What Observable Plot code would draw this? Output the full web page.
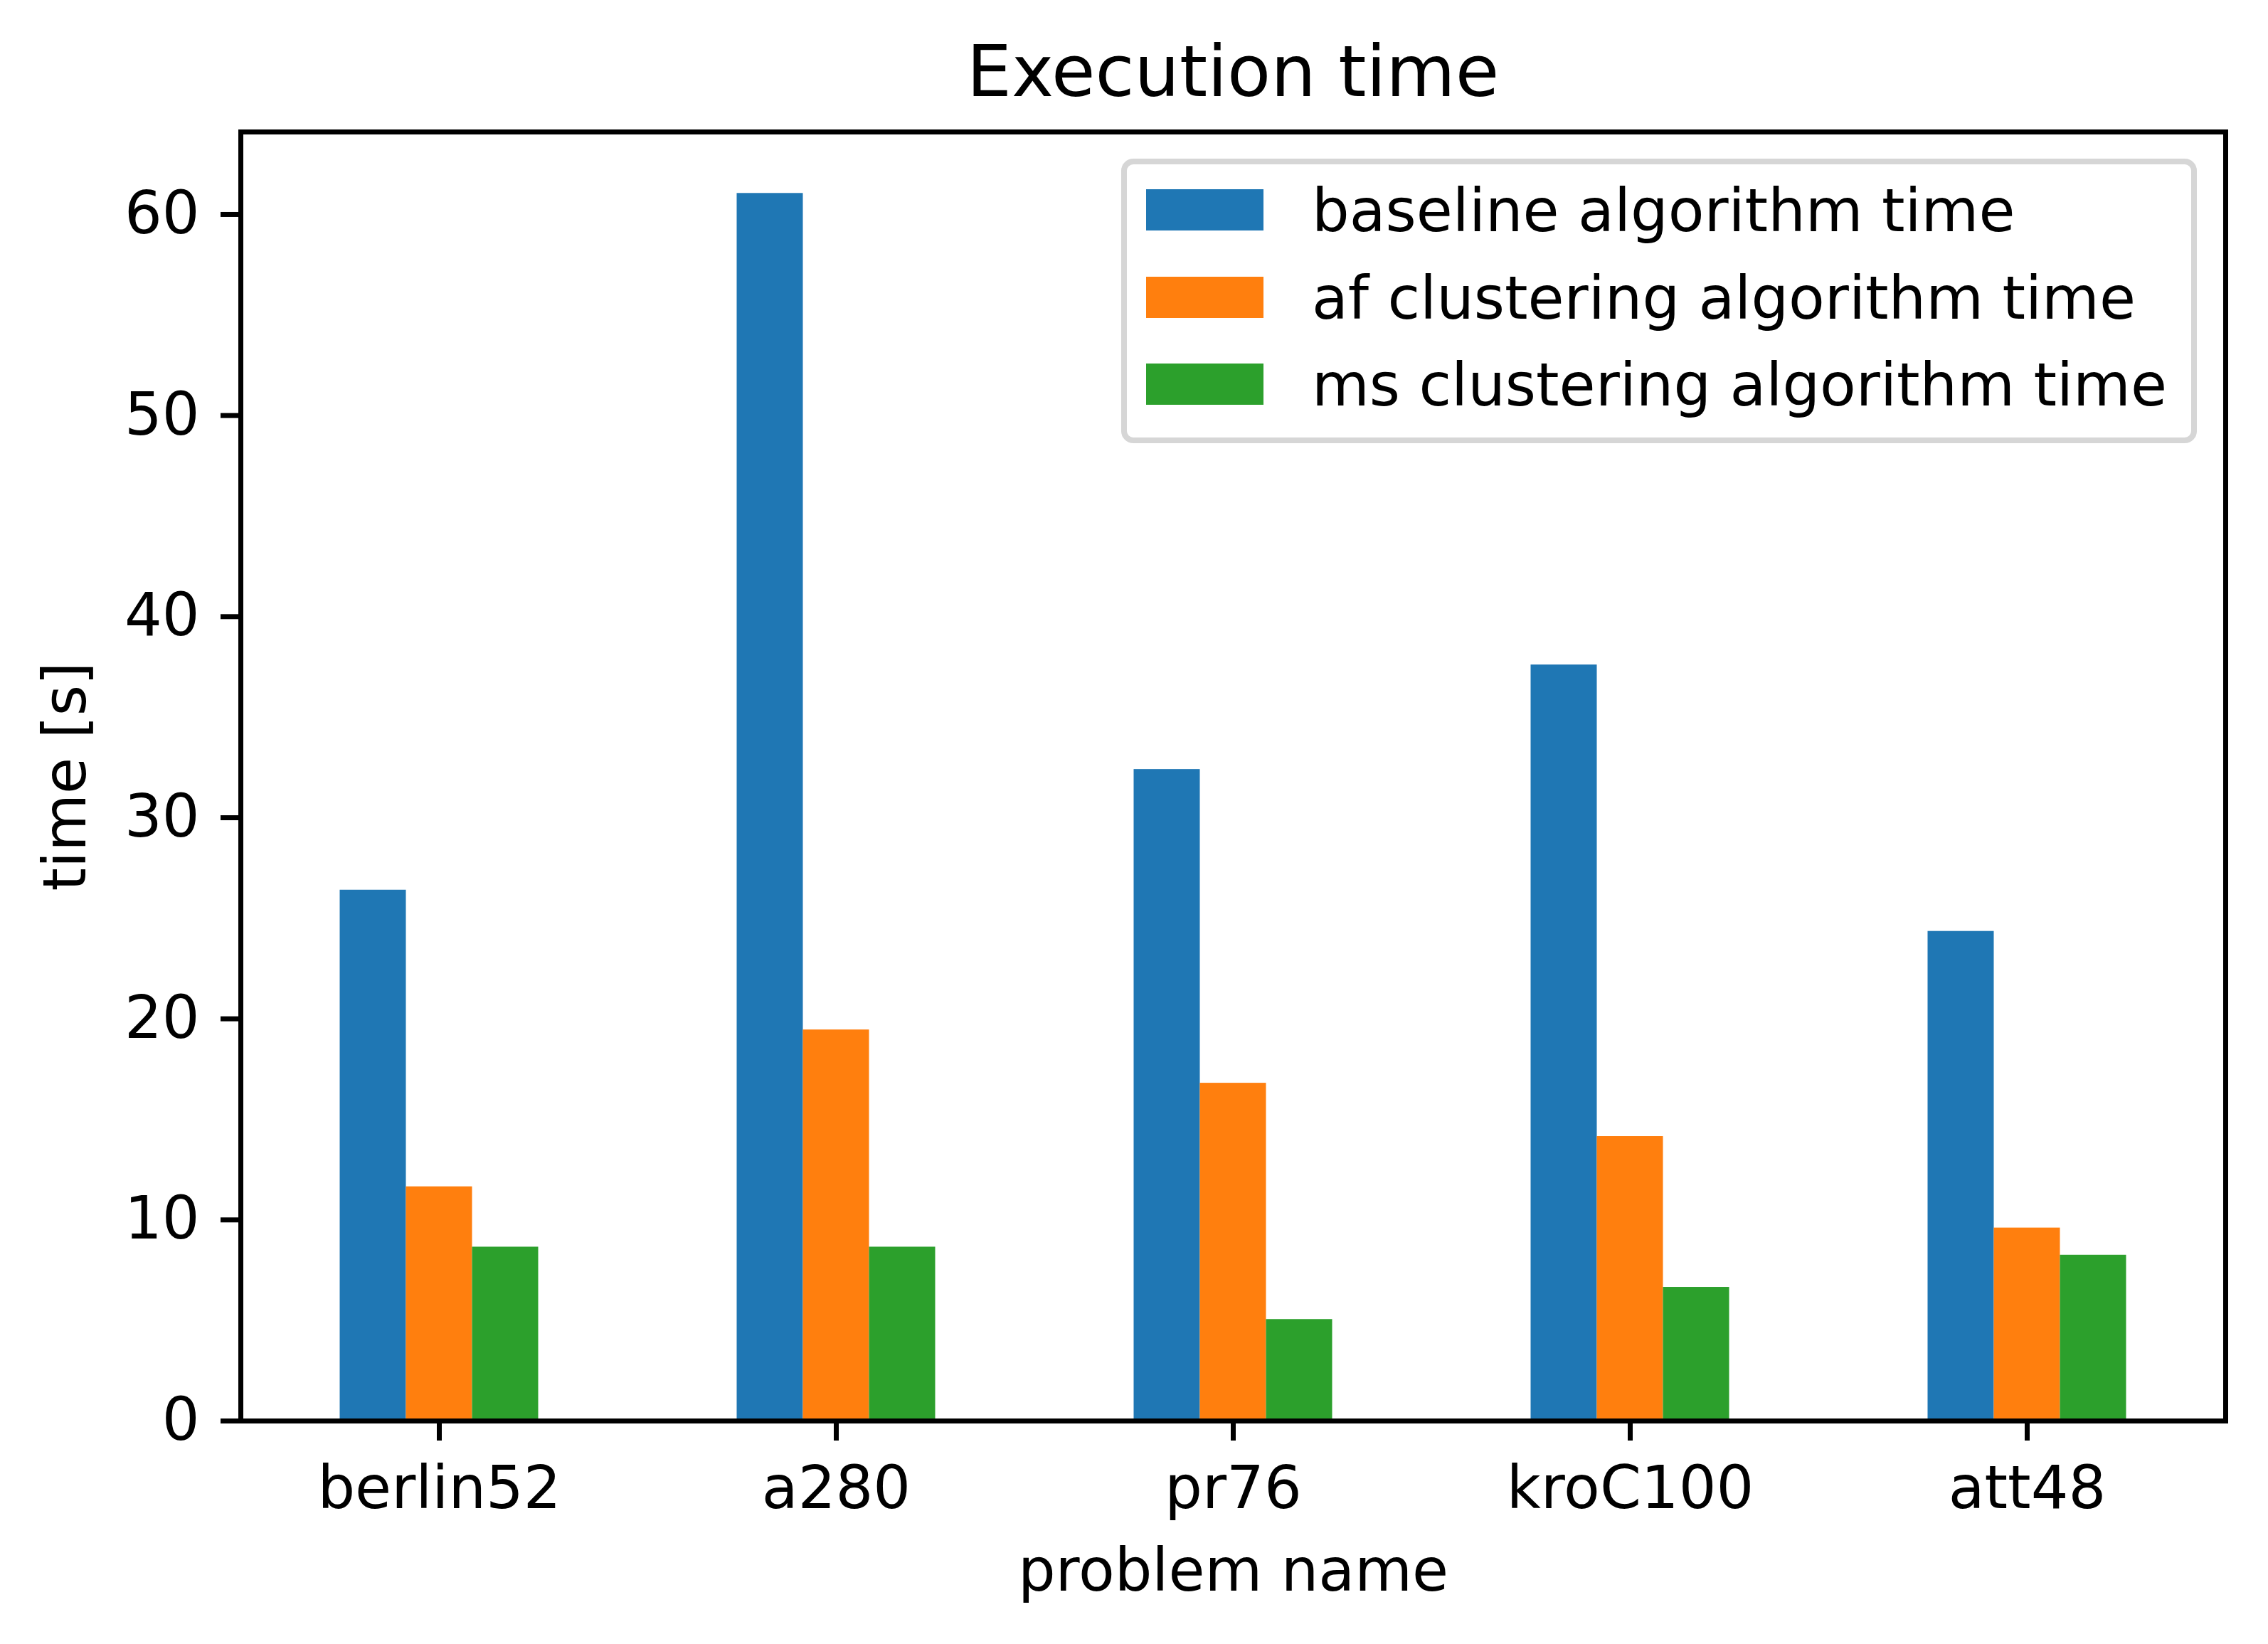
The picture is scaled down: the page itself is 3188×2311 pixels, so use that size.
<!DOCTYPE html>
<html>
<head>
<meta charset="utf-8">
<script src="https://cdn.jsdelivr.net/npm/d3@7"></script>
<script src="https://cdn.jsdelivr.net/npm/@observablehq/plot@0.6"></script>
<style>
  html, body { margin: 0; padding: 0; background: #ffffff; }
  #wrap { position: relative; width: 3188px; height: 2311px; font-family: "DejaVu Sans", sans-serif; color: #000; }
  #title { height: 166px; box-sizing: border-box; padding-top: 36px; font-size: 100px; line-height: 130px; text-align: center; width: 3188px; white-space: nowrap; }
  #title span { position: relative; left: 139px; }
  #legend { position: absolute; left: 1576px; top: 223px; width: 1512px; height: 400px; box-sizing: border-box;
            border: 8px solid rgb(214,214,214); border-radius: 17px; background: rgba(255,255,255,0.8); }
  .row-patch { position: absolute; left: 27px; width: 165px; height: 58px; }
  .row-text { position: absolute; left: 260px; font-size: 83px; line-height: 83px; white-space: nowrap; }
</style>
</head>
<body>
<div id="wrap">
  <div id="title"><span>Execution time</span></div>
  <div id="chart"></div>
  <div id="legend"></div>
</div>
<script>
// ---- data ----
const problems = ["berlin52", "a280", "pr76", "kroC100", "att48"];
const seriesNames = ["baseline algorithm time", "af clustering algorithm time", "ms clustering algorithm time"];
const seriesColors = ["#1f77b4", "#ff7f0e", "#2ca02c"];
const baselineTime = [26.4, 61.05, 32.4, 37.6, 24.35];
const afTime = [11.65, 19.45, 16.8, 14.15, 9.6];
const msTime = [8.65, 8.65, 5.05, 6.65, 8.25];
const yTicks = [0, 10, 20, 30, 40, 50, 60];

// ---- table (pandas-style grouped bars: total group width 0.5) ----
const seriesValues = [baselineTime, afTime, msTime];
const groupWidth = 0.5;
const barW = groupWidth / seriesNames.length;
const rows = [];
problems.forEach((p, i) => {
  seriesValues.forEach((vals, s) => {
    const x1 = i - groupWidth / 2 + s * barW;
    rows.push({problem: p, series: seriesNames[s], value: vals[i], x1, x2: x1 + barW});
  });
});
const yMax = d3.max(seriesValues.flat()) * 1.05;

const chart = Plot.plot({
  width: 3188,
  height: 2145,
  marginTop: 19,
  marginBottom: 314,
  marginLeft: 338,
  marginRight: 60,
  style: {fontFamily: "DejaVu Sans", fontSize: "83px", color: "black", background: "white", overflow: "visible"},
  x: {domain: [-0.5, problems.length - 0.5]},
  y: {domain: [0, yMax]},
  color: {domain: seriesNames, range: seriesColors},
  marks: [
    Plot.rectY(rows, {x1: "x1", x2: "x2", y1: 0, y2: "value", fill: "series"}),
    Plot.axisY({ticks: yTicks, tickSize: 28, tickPadding: 30, strokeWidth: 7,
                label: "time [s]", labelAnchor: "center", labelOffset: 277, labelArrow: "none"}),
    Plot.axisX({ticks: d3.range(problems.length), tickFormat: (i) => problems[i],
                tickSize: 28, tickPadding: 36, strokeWidth: 7,
                label: "problem name", labelAnchor: "center", labelOffset: 238, labelArrow: "none"}),
    Plot.frame({stroke: "black", strokeWidth: 7})
  ]
});
document.getElementById("chart").appendChild(chart);

// ---- legend (inside the axes, upper right) ----
const legend = document.getElementById("legend");
const patchTops = [35, 158, 280];
const textTops = [24, 147, 269];
seriesNames.forEach((name, k) => {
  const p = document.createElement("div");
  p.className = "row-patch";
  p.style.top = patchTops[k] + "px";
  p.style.background = seriesColors[k];
  legend.appendChild(p);
  const t = document.createElement("div");
  t.className = "row-text";
  t.style.top = textTops[k] + "px";
  t.textContent = name;
  legend.appendChild(t);
});
</script>
</body>
</html>
